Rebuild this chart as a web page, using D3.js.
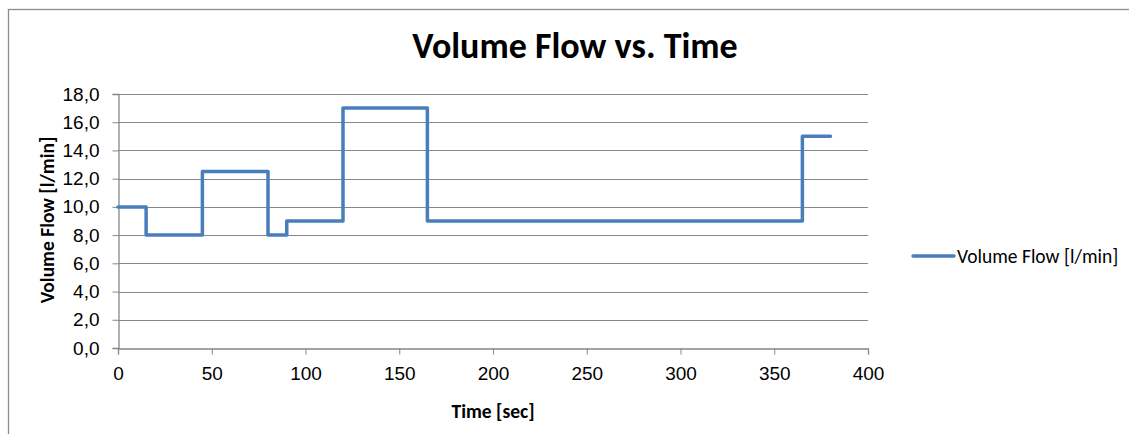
<!DOCTYPE html>
<html>
<head>
<meta charset="utf-8">
<script src="https://cdn.jsdelivr.net/npm/d3@7"></script>
<style>
  body { margin: 0; background: #fff; }
  svg { display: block; font-family: Calibri, Carlito, "Open Sans", sans-serif; }
</style>
</head>
<body>
<div id="chart"></div>
<script>
// step series: time [sec] -> volume flow [l/min]
const times = [0, 15, 45, 80, 90, 120, 165, 365, 380];
const flows = [10, 8, 12.5, 8, 9, 17, 9, 15, 15];
const xTicks = [0, 50, 100, 150, 200, 250, 300, 350, 400];
const yTicks = [0, 2, 4, 6, 8, 10, 12, 14, 16, 18];
const seriesName = 'Volume Flow [l/min]';

const width = 1129;
const height = 434;
const margin = { top: 94, right: 261, bottom: 86, left: 118 };
const chartWidth = width - margin.left - margin.right;
const chartHeight = height - margin.top - margin.bottom;

const data = times.map((t, i) => ({ t, v: flows[i] }));

const svg = d3
  .select('#chart')
  .append('svg')
  .attr('width', width)
  .attr('height', height);

// outer chart border
svg
  .append('rect')
  .attr('x', 8.5)
  .attr('y', 9.5)
  .attr('width', width)
  .attr('height', height)
  .attr('fill', 'none')
  .attr('stroke', '#8c8c8c')
  .attr('stroke-width', 1.3);

const xScale = d3.scaleLinear().domain([0, 400]).range([0, chartWidth]);
const yScale = d3.scaleLinear().domain([0, 18]).range([chartHeight, 0]);

const chart = svg
  .append('g')
  .attr('transform', `translate(${margin.left},${margin.top})`);

// gridlines
chart
  .append('g')
  .selectAll('line')
  .data(yTicks.slice(1))
  .enter()
  .append('line')
  .attr('x1', 0)
  .attr('x2', chartWidth)
  .attr('y1', (d) => Math.round(yScale(d)) + 0.5)
  .attr('y2', (d) => Math.round(yScale(d)) + 0.5)
  .attr('stroke', '#878787')
  .attr('stroke-width', 1);

// Y axis
const yAxis = chart
  .append('g')
  .attr('transform', 'translate(0.5,0)')
  .call(
    d3
      .axisLeft(yScale)
      .tickValues(yTicks)
      .tickSize(6)
      .tickPadding(13)
      .tickFormat((d) => d.toFixed(1).replace('.', ','))
  );

// X axis
const xAxis = chart
  .append('g')
  .attr('transform', `translate(0, ${chartHeight + 0.5})`)
  .call(
    d3
      .axisBottom(xScale)
      .tickValues(xTicks)
      .tickSize(6)
      .tickPadding(12.5)
  );

[yAxis, xAxis].forEach((ax) => {
  ax.select('.domain').attr('stroke', '#878787').attr('stroke-width', 1.3);
  ax.selectAll('.tick line').attr('stroke', '#878787');
  ax.selectAll('.tick text')
    .attr('fill', '#000')
    .style('font-size', '19px');
});

// step line
const line = d3
  .line()
  .x((d) => xScale(d.t))
  .y((d) => yScale(d.v))
  .curve(d3.curveStepAfter);

chart
  .append('path')
  .datum(data)
  .attr('d', line)
  .attr('fill', 'none')
  .attr('stroke', '#4a7ebb')
  .attr('stroke-width', 3.5)
  .attr('stroke-linejoin', 'round')
  .attr('stroke-linecap', 'round');

// title
svg
  .append('text')
  .attr('x', 575)
  .attr('y', 58)
  .attr('text-anchor', 'middle')
  .style('font-size', '36px')
  .style('font-weight', 'bold')
  .text('Volume Flow vs. Time');

// axis titles
svg
  .append('text')
  .attr('x', margin.left + xScale(200))
  .attr('y', 418)
  .attr('text-anchor', 'middle')
  .style('font-size', '19.5px')
  .style('font-weight', 'bold')
  .text('Time [sec]');

svg
  .append('text')
  .attr('transform', `translate(54, ${margin.top + chartHeight / 2 - 1}) rotate(-90)`)
  .attr('text-anchor', 'middle')
  .style('font-size', '19.5px')
  .style('font-weight', 'bold')
  .text(seriesName);

// legend
const legend = svg.append('g').attr('transform', 'translate(913, 256)');

legend
  .append('line')
  .attr('x1', 0)
  .attr('x2', 41)
  .attr('stroke', '#4a7ebb')
  .attr('stroke-width', 3.5)
  .attr('stroke-linecap', 'round');

legend
  .append('text')
  .attr('x', 44)
  .attr('y', 0)
  .attr('dy', '.35em')
  .style('font-size', '19.5px')
  .text(seriesName);
</script>
</body>
</html>
